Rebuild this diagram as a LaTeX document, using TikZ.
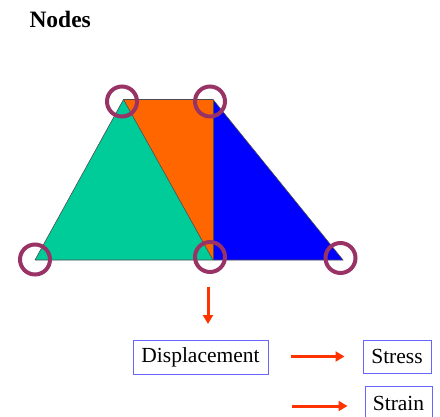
\documentclass[tikz,border=0pt]{standalone}
\usepackage{fontspec}
\setmainfont{Liberation Serif}
\usetikzlibrary{arrows.meta}
\definecolor{tgreen}{HTML}{00CC99}
\definecolor{torange}{HTML}{FF6600}
\definecolor{tblue}{HTML}{0000FF}
\definecolor{ring}{HTML}{993366}
\definecolor{arr}{HTML}{FF3300}
\definecolor{boxc}{HTML}{6666FF}
\tikzset{
  tri/.style={draw=black!70, line width=0.6pt},
  ring/.style={circle, draw=ring, line width=4pt, minimum size=30pt, inner sep=0pt},
  label box/.style={draw=boxc, line width=1pt, font=\fontsize{21.5}{24}\selectfont, inner sep=0pt},
  redarrow/.style={draw=arr, line width=3pt, -{Triangle[length=9pt,width=10pt]}},
}
\begin{document}
\begin{tikzpicture}[x=1pt,y=-1pt]
\useasboundingbox (0,0) rectangle (440,416);
\node[font=\bfseries\fontsize{23.5}{26}\selectfont, anchor=base west] (title) at (26,27) {Nodes};
\coordinate (TL) at (123.5,99.5);
\coordinate (TR) at (213,99.5);
\coordinate (BL) at (35,260);
\coordinate (BM) at (213,260);
\coordinate (BR) at (343,260);
\fill[torange] (TL) -- (TR) -- (BM) -- cycle;
\fill[tblue] (TR) -- (BR) -- (BM) -- cycle;
\fill[tgreen] (BL) -- (TL) -- (BM) -- cycle;
\draw[tri] (BL) -- (TL) -- (TR) -- (BR) -- (BL);
\draw[tri] (TL) -- (BM);
\draw[tri] (TR) -- (BM);
\node[ring] (c1) at (122,101.5) {};
\node[ring] (c2) at (210,101.5) {};
\node[ring] (c3) at (35,259.5) {};
\node[ring] (c4) at (210,257) {};
\node[ring] (c5) at (340.5,258) {};
\node[label box, minimum width=135pt, minimum height=34pt] (disp) at (200.5,357) {Displacement};
\node[label box, minimum width=68pt, minimum height=33pt] (stress) at (397,356.5) {Stress};
\node[label box, minimum width=67pt, minimum height=33pt] (strain) at (398.5,403) {Strain};
\coordinate (d0) at (208,287);
\coordinate (d1) at (208,324);
\draw[redarrow] (d0) -- (d1);
\draw[redarrow, shorten <=22pt, shorten >=18pt] (disp.east |- stress.west) -- (stress.west);
\coordinate (s0) at (292,406);
\draw[redarrow, shorten >=17pt] (s0) -- (strain.west |- s0);
\end{tikzpicture}
\end{document}
